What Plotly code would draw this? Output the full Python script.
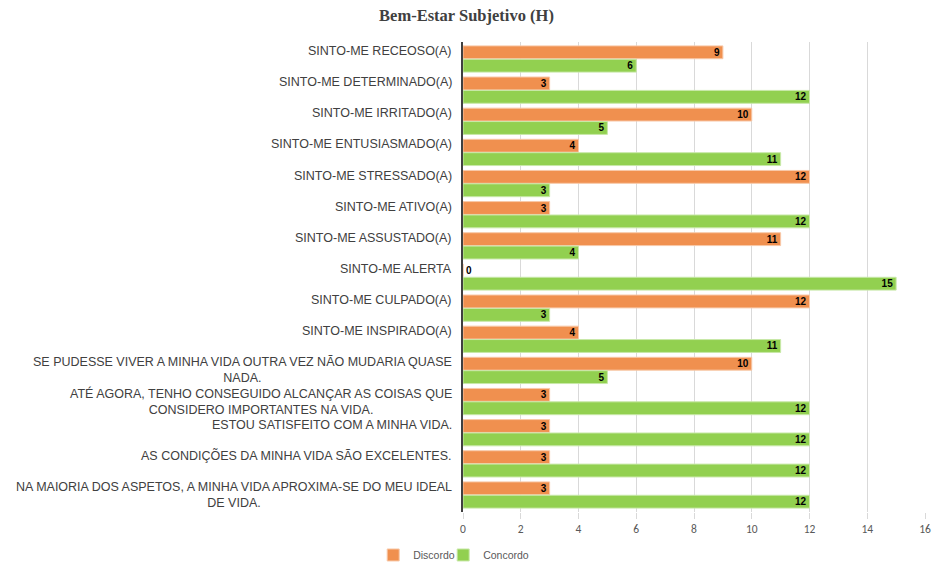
import plotly.graph_objects as go

categories = [
    "SINTO-ME RECEOSO(A)",
    "SINTO-ME DETERMINADO(A)",
    "SINTO-ME IRRITADO(A)",
    "SINTO-ME ENTUSIASMADO(A)",
    "SINTO-ME STRESSADO(A)",
    "SINTO-ME ATIVO(A)",
    "SINTO-ME ASSUSTADO(A)",
    "SINTO-ME ALERTA",
    "SINTO-ME CULPADO(A)",
    "SINTO-ME INSPIRADO(A)",
    "SE PUDESSE VIVER A MINHA VIDA OUTRA VEZ NÃO MUDARIA QUASE<br>NADA.",
    "ATÉ AGORA, TENHO CONSEGUIDO ALCANÇAR AS COISAS QUE<br>CONSIDERO IMPORTANTES NA VIDA.",
    "ESTOU SATISFEITO COM A MINHA VIDA.",
    "AS CONDIÇÕES DA MINHA VIDA SÃO EXCELENTES.",
    "NA MAIORIA DOS ASPETOS, A MINHA VIDA APROXIMA-SE DO MEU IDEAL<br>DE VIDA.",
]
discordo = [9, 3, 10, 4, 12, 3, 11, 0, 12, 4, 10, 3, 3, 3, 3]
concordo = [6, 12, 5, 11, 3, 12, 4, 15, 3, 11, 5, 12, 12, 12, 12]
x_ticks = [0, 2, 4, 6, 8, 10, 12, 14, 16]

ids = list(range(len(categories)))
label_font = dict(family="Liberation Sans", size=10, color="#000000", weight="bold")

fig = go.Figure()
fig.add_trace(go.Bar(
    y=ids, x=discordo, orientation="h", name="Discordo", legend="legend",
    marker=dict(color="#F0904F", line=dict(color="#F8C8A8", width=1)),
    text=[str(v) for v in discordo],
    textposition=["outside" if v == 0 else "inside" for v in discordo],
    insidetextanchor="end", textangle=0, constraintext="none",
    textfont=label_font, insidetextfont=label_font, outsidetextfont=label_font,
    cliponaxis=False,
))
fig.add_trace(go.Bar(
    y=ids, x=concordo, orientation="h", name="Concordo", legend="legend2",
    marker=dict(color="#92D050", line=dict(color="#C8E8A8", width=1)),
    text=[str(v) for v in concordo],
    textposition="inside",
    insidetextanchor="end", textangle=0, constraintext="none",
    textfont=label_font, insidetextfont=label_font,
))

annotations = []
for i, c in enumerate(categories):
    txt = c if "<br>" in c else c + "<br> "
    annotations.append(dict(
        x=-0.02, xref="paper", y=i, yref="y", text=txt, showarrow=False,
        xanchor="right", yanchor="middle", align="center",
        font=dict(family="Liberation Sans", size=12.5, color="#404040"),
    ))

legend_common = dict(orientation="h", xanchor="left", xref="container",
                     y=0.016, yanchor="middle", yref="container",
                     font=dict(family="Liberation Sans", size=10.5, color="#595959"),
                     itemwidth=30, bgcolor="rgba(0,0,0,0)")

fig.update_layout(
    width=933, height=564,
    margin=dict(l=463, r=8, t=42, b=52, autoexpand=False),
    paper_bgcolor="white", plot_bgcolor="white",
    barmode="group", bargap=0.14, bargroupgap=0.04,
    title=dict(text="<b>Bem-Estar Subjetivo (H)</b>", x=0.5, xanchor="center",
               y=0.973, yanchor="middle",
               font=dict(family="Liberation Serif", size=16.5, color="#404040")),
    xaxis=dict(range=[0, 16], tickvals=x_ticks, showgrid=True, gridcolor="#D9D9D9",
               gridwidth=1, zeroline=False, showline=False,
               ticks="outside", ticklen=6, tickcolor="#D9D9D9",
               tickfont=dict(family="Carlito, Liberation Sans", size=11.5, color="#595959")),
    yaxis=dict(tickvals=ids, showticklabels=False, autorange="reversed",
               showgrid=False, zeroline=False, showline=True, linecolor="#404040",
               linewidth=2),
    legend=dict(x=0.4, **legend_common),
    legend2=dict(x=0.475, **legend_common),
    annotations=annotations,
    showlegend=True,
)

fig.write_html("out.html")
